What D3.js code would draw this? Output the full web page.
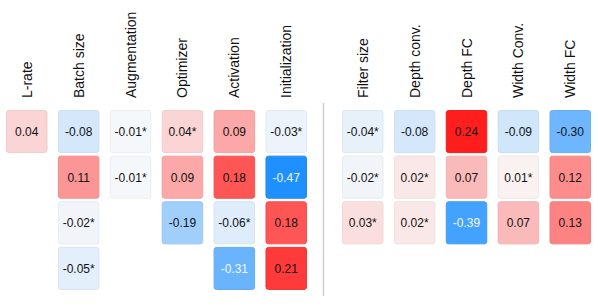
<!DOCTYPE html>
<html>
<head>
<meta charset="utf-8">
<script src="https://cdn.jsdelivr.net/npm/d3@7"></script>
<style>
  body { margin: 0; background: #fff; }
  svg { display: block; font-family: "Liberation Sans", Arial, Helvetica, sans-serif; }
</style>
</head>
<body>
<div id="chartDiv"></div>
<script>
var width = 598, height = 306;

// hyperparameters (left block) and architecture choices (right block)
var leftCols = ["L-rate", "Batch size", "Augmentation", "Optimizer", "Activation", "Initialization"];
var rightCols = ["Filter size", "Depth conv.", "Depth FC", "Width Conv.", "Width FC"];

// correlation values per column, top to bottom (null = no cell)
var leftValues = [
  [0.04, null, null, null],
  [-0.08, 0.11, -0.02, -0.05],
  [-0.01, -0.01, null, null],
  [0.04, 0.09, -0.19, null],
  [0.09, 0.18, -0.06, -0.31],
  [-0.03, -0.47, 0.18, 0.21]
];
// true = marked with an asterisk
var leftStars = [
  [false, false, false, false],
  [false, false, true, true],
  [true, true, false, false],
  [true, false, false, false],
  [false, false, true, false],
  [true, false, false, false]
];

var rightValues = [
  [-0.04, -0.02, 0.03],
  [-0.08, 0.02, 0.02],
  [0.24, 0.07, -0.39],
  [-0.09, 0.01, 0.07],
  [-0.30, 0.12, 0.13]
];
var rightStars = [
  [true, true, true],
  [false, true, true],
  [false, false, false],
  [false, true, false],
  [false, false, false]
];

var color = d3.scaleLinear()
  .domain([-0.47, 0, 0.24])
  .range(["#1e90ff", "#fafafa", "#ff1e1e"])
  .clamp(true);

// plain hyphen as minus sign, like the original
var fmt = d3.formatLocale({ decimal: ".", thousands: ",", grouping: [3], currency: ["", ""], minus: "-" }).format(".2f");

var svg = d3.select("#chartDiv").append("svg")
  .attr("width", width)
  .attr("height", height);

var y = d3.scaleBand()
  .domain([0, 1, 2, 3])
  .range([110, 290])
  .paddingInner(0.055);

var xLeft = d3.scaleBand()
  .domain(leftCols)
  .range([6, 307])
  .paddingInner(0.2);

var xRight = d3.scaleBand()
  .domain(rightCols)
  .range([342, 591])
  .paddingInner(0.2);

function drawBlock(cols, values, stars, x) {
  var g = svg.append("g");

  // rotated column headers
  g.selectAll(".header")
    .data(cols)
    .enter().append("text")
    .attr("class", "header")
    .attr("transform", function (d) {
      return "translate(" + (x(d) + x.bandwidth() / 2) + ",98) rotate(-90)";
    })
    .attr("dy", "0.36em")
    .style("font-size", "14px")
    .style("fill", "#111")
    .text(function (d) { return d; });

  var cells = [];
  cols.forEach(function (c, i) {
    values[i].forEach(function (v, j) {
      if (v !== null) cells.push({ col: c, row: j, value: v, star: stars[i][j] });
    });
  });

  var cell = g.selectAll(".cell")
    .data(cells)
    .enter().append("g")
    .attr("class", "cell")
    .attr("transform", function (d) { return "translate(" + x(d.col) + "," + y(d.row) + ")"; });

  cell.append("rect")
    .attr("x", 0.5)
    .attr("y", 0.5)
    .attr("width", x.bandwidth() - 1)
    .attr("height", y.bandwidth() - 1)
    .attr("rx", 2.5)
    .style("fill", function (d) { return color(d.value); })
    .style("stroke", function (d) { return d3.color(color(d.value)).darker(0.12); })
    .style("stroke-width", 1);

  cell.append("text")
    .attr("x", x.bandwidth() / 2)
    .attr("y", y.bandwidth() / 2)
    .attr("dy", "0.36em")
    .attr("text-anchor", "middle")
    .style("font-size", "12px")
    .style("fill", function (d) { return d.value <= -0.31 ? "#f4f8ff" : "#111"; })
    .text(function (d) { return fmt(d.value) + (d.star ? "*" : ""); });
}

drawBlock(leftCols, leftValues, leftStars, xLeft);
drawBlock(rightCols, rightValues, rightStars, xRight);

// separator between the two blocks
svg.append("line")
  .attr("x1", 323.5).attr("x2", 323.5)
  .attr("y1", 103).attr("y2", 296)
  .style("stroke", "#cfcfcf")
  .style("stroke-width", 1.5);
</script>
</body>
</html>
